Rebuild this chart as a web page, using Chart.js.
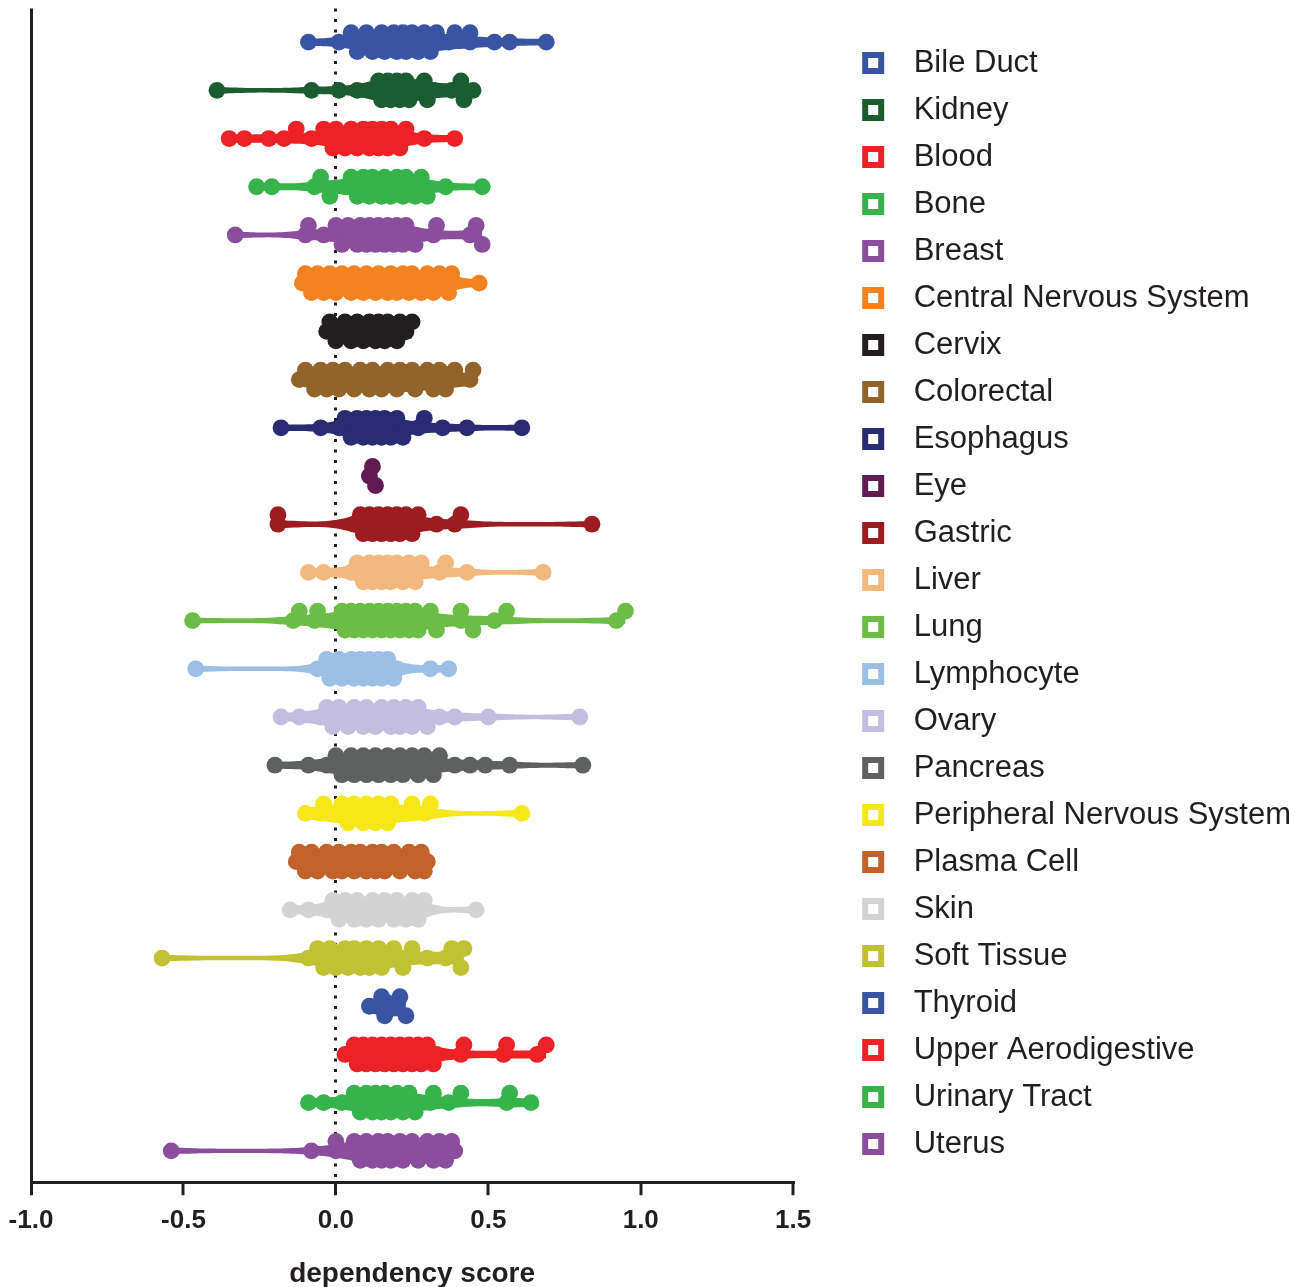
<!DOCTYPE html>
<html>
<head>
<meta charset="utf-8">
<title>Dependency score by tissue</title>
<script src="https://cdn.jsdelivr.net/npm/chart.js@4.4.1/dist/chart.umd.min.js"></script>
<style>
  html, body { margin: 0; padding: 0; background: #fff; }
  #wrap { width: 1311px; height: 1287px; position: relative; }
</style>
</head>
<body>
<div id="wrap"><canvas id="depChart"></canvas></div>
<script>
// categories (top to bottom)
const tissues = ['Bile Duct', 'Kidney', 'Blood', 'Bone', 'Breast', 'Central Nervous System', 'Cervix',
  'Colorectal', 'Esophagus', 'Eye', 'Gastric', 'Liver', 'Lung', 'Lymphocyte', 'Ovary', 'Pancreas',
  'Peripheral Nervous System', 'Plasma Cell', 'Skin', 'Soft Tissue', 'Thyroid', 'Upper Aerodigestive',
  'Urinary Tract', 'Uterus'];

const tissueColors = ['#3a54a4', '#1c5c31', '#ec2227', '#36b34a', '#8a4e9d', '#f48221', '#231f20',
  '#93642a', '#292b73', '#611a53', '#9d1c20', '#f2b87e', '#6bbd45', '#9bbfe5', '#c3bedf', '#5f6060',
  '#f5e71a', '#c1622a', '#d3d3d3', '#c1c134', '#3a54a4', '#ec2227', '#36b34a', '#8a4e9d'];

// dependency scores
const bileDuct = [-0.09, 0.01, 0.05, 0.07, 0.10, 0.12, 0.13, 0.15, 0.16, 0.18, 0.19, 0.20, 0.21, 0.22, 0.23, 0.24, 0.25, 0.27, 0.29, 0.30, 0.31, 0.33, 0.37, 0.39, 0.44, 0.44, 0.52, 0.57, 0.69];
const kidney = [-0.39, -0.08, 0.01, 0.07, 0.12, 0.14, 0.15, 0.16, 0.17, 0.18, 0.19, 0.20, 0.21, 0.22, 0.23, 0.24, 0.26, 0.29, 0.30, 0.32, 0.38, 0.41, 0.42, 0.45];
const blood = [-0.35, -0.30, -0.22, -0.17, -0.13, -0.08, -0.04, -0.01, 0.00, 0.02, 0.03, 0.05, 0.06, 0.07, 0.09, 0.10, 0.11, 0.12, 0.13, 0.14, 0.15, 0.16, 0.17, 0.18, 0.20, 0.21, 0.23, 0.29, 0.39];
const bone = [-0.26, -0.21, -0.07, -0.05, -0.02, 0.03, 0.05, 0.07, 0.09, 0.10, 0.11, 0.12, 0.14, 0.15, 0.16, 0.17, 0.18, 0.20, 0.21, 0.22, 0.23, 0.25, 0.26, 0.28, 0.30, 0.36, 0.48];
const breast = [-0.33, -0.10, -0.09, -0.04, 0.00, 0.02, 0.04, 0.05, 0.07, 0.08, 0.09, 0.10, 0.11, 0.12, 0.13, 0.14, 0.15, 0.16, 0.17, 0.18, 0.19, 0.20, 0.21, 0.22, 0.23, 0.24, 0.26, 0.32, 0.33, 0.44, 0.46, 0.48];
const cns = [-0.11, -0.10, -0.08, -0.06, -0.04, -0.02, 0.00, 0.02, 0.03, 0.05, 0.06, 0.08, 0.09, 0.10, 0.12, 0.13, 0.14, 0.15, 0.17, 0.18, 0.19, 0.20, 0.22, 0.23, 0.24, 0.25, 0.27, 0.28, 0.30, 0.31, 0.32, 0.34, 0.35, 0.37, 0.38, 0.47];
const cervix = [-0.03, -0.02, 0.00, 0.01, 0.03, 0.05, 0.07, 0.09, 0.11, 0.12, 0.13, 0.14, 0.15, 0.16, 0.17, 0.19, 0.20, 0.21, 0.23, 0.25];
const colorectal = [-0.12, -0.10, -0.07, -0.05, -0.03, -0.01, 0.01, 0.03, 0.04, 0.06, 0.08, 0.09, 0.11, 0.12, 0.14, 0.15, 0.17, 0.18, 0.20, 0.21, 0.23, 0.25, 0.26, 0.28, 0.30, 0.32, 0.34, 0.36, 0.39, 0.44, 0.45];
const esophagus = [-0.18, -0.05, 0.01, 0.03, 0.05, 0.07, 0.08, 0.09, 0.10, 0.11, 0.12, 0.13, 0.14, 0.15, 0.16, 0.17, 0.18, 0.20, 0.22, 0.27, 0.29, 0.35, 0.43, 0.61];
const eye = [0.11, 0.12, 0.13];
const gastric = [-0.19, -0.19, 0.06, 0.08, 0.09, 0.10, 0.11, 0.12, 0.13, 0.14, 0.15, 0.16, 0.17, 0.18, 0.19, 0.20, 0.21, 0.22, 0.23, 0.25, 0.27, 0.33, 0.39, 0.41, 0.84];
const liver = [-0.09, -0.04, 0.05, 0.07, 0.09, 0.10, 0.11, 0.12, 0.13, 0.14, 0.15, 0.16, 0.17, 0.18, 0.19, 0.20, 0.22, 0.24, 0.26, 0.28, 0.34, 0.36, 0.43, 0.68];
const lung = [-0.47, -0.14, -0.12, -0.07, -0.06, 0.00, 0.02, 0.03, 0.04, 0.05, 0.06, 0.07, 0.08, 0.09, 0.10, 0.11, 0.12, 0.13, 0.14, 0.15, 0.16, 0.17, 0.18, 0.19, 0.20, 0.21, 0.22, 0.23, 0.24, 0.25, 0.26, 0.27, 0.29, 0.31, 0.33, 0.41, 0.41, 0.45, 0.52, 0.56, 0.92, 0.95];
const lymphocyte = [-0.46, -0.06, -0.03, -0.02, 0.00, 0.01, 0.02, 0.04, 0.05, 0.06, 0.07, 0.08, 0.09, 0.10, 0.11, 0.12, 0.13, 0.14, 0.15, 0.16, 0.17, 0.19, 0.20, 0.31, 0.37];
const ovary = [-0.18, -0.12, -0.05, -0.03, -0.01, 0.01, 0.02, 0.04, 0.06, 0.07, 0.09, 0.10, 0.12, 0.13, 0.15, 0.16, 0.18, 0.19, 0.20, 0.21, 0.23, 0.25, 0.27, 0.30, 0.34, 0.39, 0.50, 0.80];
const pancreas = [-0.20, -0.09, -0.03, 0.00, 0.02, 0.03, 0.05, 0.06, 0.08, 0.09, 0.10, 0.12, 0.13, 0.14, 0.16, 0.17, 0.18, 0.20, 0.21, 0.22, 0.24, 0.25, 0.27, 0.29, 0.32, 0.34, 0.39, 0.44, 0.49, 0.57, 0.81];
const pns = [-0.10, -0.05, -0.04, 0.00, 0.02, 0.04, 0.06, 0.07, 0.09, 0.10, 0.11, 0.13, 0.14, 0.15, 0.17, 0.18, 0.23, 0.25, 0.29, 0.31, 0.61];
const plasmaCell = [-0.13, -0.12, -0.10, -0.08, -0.06, -0.05, -0.03, -0.01, 0.00, 0.01, 0.02, 0.04, 0.05, 0.06, 0.07, 0.08, 0.10, 0.11, 0.12, 0.13, 0.14, 0.15, 0.16, 0.18, 0.19, 0.21, 0.24, 0.26, 0.27, 0.28, 0.29, 0.30];
const skin = [-0.15, -0.09, -0.03, -0.01, 0.01, 0.03, 0.04, 0.06, 0.07, 0.09, 0.10, 0.12, 0.13, 0.14, 0.16, 0.17, 0.19, 0.20, 0.22, 0.23, 0.25, 0.26, 0.27, 0.29, 0.46];
const softTissue = [-0.57, -0.09, -0.06, -0.04, -0.02, 0.00, 0.01, 0.03, 0.04, 0.05, 0.06, 0.08, 0.09, 0.10, 0.11, 0.13, 0.14, 0.15, 0.17, 0.19, 0.22, 0.25, 0.30, 0.36, 0.38, 0.41, 0.42];
const thyroid = [0.11, 0.15, 0.16, 0.18, 0.21, 0.23];
const upperAero = [0.03, 0.06, 0.07, 0.08, 0.09, 0.10, 0.11, 0.12, 0.13, 0.14, 0.15, 0.16, 0.17, 0.18, 0.19, 0.20, 0.21, 0.22, 0.23, 0.24, 0.25, 0.26, 0.27, 0.28, 0.29, 0.30, 0.32, 0.33, 0.41, 0.42, 0.55, 0.56, 0.66, 0.69];
const urinaryTract = [-0.09, -0.04, 0.02, 0.06, 0.08, 0.10, 0.11, 0.12, 0.13, 0.14, 0.15, 0.16, 0.17, 0.18, 0.20, 0.22, 0.23, 0.24, 0.26, 0.31, 0.32, 0.37, 0.41, 0.56, 0.57, 0.64];
const uterus = [-0.54, -0.08, 0.00, 0.00, 0.05, 0.06, 0.08, 0.09, 0.10, 0.12, 0.13, 0.14, 0.15, 0.16, 0.17, 0.18, 0.20, 0.21, 0.22, 0.24, 0.25, 0.27, 0.28, 0.30, 0.32, 0.34, 0.36, 0.38, 0.39];

const tissueValues = [bileDuct, kidney, blood, bone, breast, cns, cervix, colorectal, esophagus, eye,
  gastric, liver, lung, lymphocyte, ovary, pancreas, pns, plasmaCell, skin, softTissue, thyroid,
  upperAero, urinaryTract, uterus];

const xTicks = [-1.0, -0.5, 0.0, 0.5, 1.0, 1.5];

// layout constants for the swarm / violin shapes
const X_PX = 762 / 2.5;   // px per score unit
const Y_PX = 48.2;        // px per category row
const DOT_R = 8.4;
const ROW_SHIFT = 9.5;

// spread points of one category over three rows so they don't sit on top of each other
function swarm(values, row) {
  const sorted = values.slice().sort((a, b) => a - b);
  const placed = [];
  sorted.forEach(v => {
    let best = 0, bestGap = -1;
    for (const k of [0, -1, 1]) {
      let gap = Infinity;
      placed.forEach(p => {
        gap = Math.min(gap, Math.hypot((v - p.v) * X_PX, (k - p.k) * ROW_SHIFT));
      });
      if (gap >= DOT_R * 1.6) { best = k; break; }
      if (gap > bestGap) { best = k; bestGap = gap; }
    }
    placed.push({ v: v, k: best });
  });
  return placed.map(p => ({ x: p.v, y: row + p.k * ROW_SHIFT / Y_PX }));
}

// kernel density outline (violin), truncated at min / max
function violin(values, row) {
  const n = values.length;
  const lo = Math.min(...values), hi = Math.max(...values);
  const mean = values.reduce((s, v) => s + v, 0) / n;
  const sd = Math.sqrt(values.reduce((s, v) => s + (v - mean) * (v - mean), 0) / n) || 0.01;
  const bw = 0.6 * 1.06 * sd * Math.pow(n, -0.2);
  const steps = 80;
  const xs = [], dens = [];
  for (let i = 0; i <= steps; i++) {
    const x = lo + (hi - lo) * i / steps;
    let d = 0;
    values.forEach(v => { const u = (x - v) / bw; d += Math.exp(-0.5 * u * u); });
    xs.push(x);
    dens.push(d);
  }
  const peak = Math.max(...dens);
  const half = dens.map(d => (2.2 + 11 * d / peak) / Y_PX);
  return {
    upper: xs.map((x, i) => ({ x: x, y: row - half[i] })),
    lower: xs.map((x, i) => ({ x: x, y: row + half[i] }))
  };
}

// hollow square legend marker, drawn on the right of a wide box so the text gap matches
function legendSwatch(color) {
  const c = document.createElement('canvas');
  c.width = 89;
  c.height = 24;
  const g = c.getContext('2d');
  g.strokeStyle = color;
  g.lineWidth = 6;
  g.strokeRect(56, 4, 16, 16);
  return c;
}

const pointSets = tissues.map((name, i) => ({
  label: name,
  data: swarm(tissueValues[i], i),
  backgroundColor: tissueColors[i],
  borderColor: tissueColors[i],
  borderWidth: 0,
  pointRadius: DOT_R,
  pointHoverRadius: DOT_R,
  order: 1
}));

const violinSets = [];
tissues.forEach((name, i) => {
  const v = violin(tissueValues[i], i);
  violinSets.push({
    type: 'line', label: name + ' violin top', data: v.upper,
    pointRadius: 0, borderWidth: 0, borderColor: tissueColors[i], fill: false, order: 2
  });
  violinSets.push({
    type: 'line', label: name + ' violin bottom', data: v.lower,
    pointRadius: 0, borderWidth: 0, borderColor: tissueColors[i],
    backgroundColor: tissueColors[i], fill: '-1', order: 2
  });
});

const swatches = tissueColors.map(legendSwatch);
const ink = '#231f20';

Chart.defaults.font.family = "'Liberation Sans', Arial, sans-serif";
Chart.defaults.color = ink;

new Chart(document.getElementById('depChart'), {
  type: 'scatter',
  data: { datasets: pointSets.concat(violinSets) },
  options: {
    responsive: true,
    maintainAspectRatio: false,
    animation: false,
    events: [],
    layout: { padding: { top: 8, left: 31, right: 10, bottom: -4 } },
    plugins: {
      tooltip: { enabled: false },
      legend: {
        position: 'right',
        align: 'start',
        title: { display: true, text: '', font: { size: 10 }, padding: { top: 11.5, bottom: 0 } },
        labels: {
          usePointStyle: true,
          pointStyleWidth: 89,
          padding: 16,
          color: ink,
          font: { size: 31 },
          generateLabels: () => tissues.map((name, i) => ({
            text: name,
            pointStyle: swatches[i],
            fillStyle: tissueColors[i],
            strokeStyle: tissueColors[i],
            lineWidth: 0,
            hidden: false,
            datasetIndex: i
          }))
        }
      }
    },
    scales: {
      x: {
        type: 'linear',
        min: -1,
        max: 1.5,
        z: 1,
        afterBuildTicks: axis => { axis.ticks = xTicks.map(v => ({ value: v })); },
        afterFit: axis => { axis.paddingLeft = 0; axis.paddingRight = 0; },
        ticks: {
          callback: v => v.toFixed(1),
          font: { size: 26, weight: 'bold' },
          color: ink,
          padding: 10,
          maxRotation: 0,
          autoSkip: false
        },
        grid: {
          color: ctx => (ctx.tick && (ctx.tick.value === -1 || ctx.tick.value === 0)) ? ink : 'rgba(0,0,0,0)',
          lineWidth: ctx => (ctx.tick && (ctx.tick.value === -1 || ctx.tick.value === 0)) ? 3 : 0,
          tickLength: 13,
          tickWidth: 3,
          tickColor: ink
        },
        border: {
          display: true,
          color: ink,
          width: 3,
          dash: ctx => (ctx.tick && ctx.tick.value === 0) ? [3, 7.5] : []
        },
        title: {
          display: true,
          text: 'dependency score',
          font: { size: 28, weight: 'bold' },
          color: ink,
          padding: { top: 11, bottom: 0 }
        }
      },
      y: {
        type: 'linear',
        min: -0.7,
        max: 23.65,
        reverse: true,
        display: false
      }
    }
  }
});
</script>
</body>
</html>
